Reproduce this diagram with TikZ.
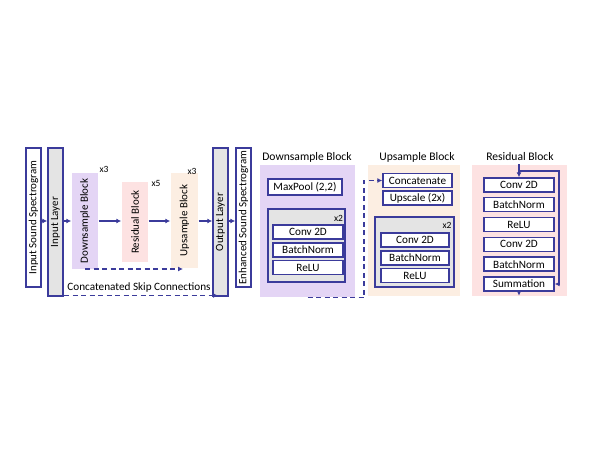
\documentclass[tikz,border=0pt]{standalone}
\usepackage{fontspec}
\setmainfont{Carlito}
\usetikzlibrary{arrows.meta,positioning}

\definecolor{lineblue}{HTML}{3B3B9B}
\definecolor{dspurple}{HTML}{E4D5F5}
\definecolor{respink}{HTML}{FDE2E2}
\definecolor{uspeach}{HTML}{FCEEE2}
\definecolor{laygray}{HTML}{E4E4E4}

\begin{document}
\begin{tikzpicture}[x=1pt,y=-1pt,>={Latex[length=5pt,width=5pt]},line width=1.4pt,
    box/.style={draw=lineblue,fill=white,inner sep=0pt,font=\fontsize{11.2}{12}\selectfont},
    vbox/.style={box,rotate=90,font=\fontsize{11}{12}\selectfont},
    bg/.style={inner sep=0pt,draw=none},
    conn/.style={draw=lineblue,->},
    skip/.style={conn,dash pattern=on 5pt off 3.5pt},
    title/.style={inner sep=0pt,font=\fontsize{11.6}{13}\selectfont},
    rep/.style={inner sep=0pt,font=\fontsize{9.5}{10}\selectfont}]
    \useasboundingbox (0,0) rectangle (608,470);

    % overall network
    \node[vbox,minimum width=139pt,minimum height=15pt] (insp) at (33.5,217.5) {Input Sound Spectrogram};
    \node[vbox,fill=laygray,minimum width=148pt,minimum height=15pt] (inlayer) at (55.5,222) {Input Layer};
    \node[vbox,draw=none,fill=dspurple,minimum width=96pt,minimum height=26pt] (down) at (85,221) {Downsample Block};
    \node[vbox,draw=none,fill=respink,minimum width=80pt,minimum height=26pt] (res) at (135,222) {Residual Block};
    \node[vbox,draw=none,fill=uspeach,minimum width=95pt,minimum height=27pt] (up) at (184.5,220.5) {Upsample Block};
    \node[vbox,fill=laygray,minimum width=148pt,minimum height=15pt] (outlayer) at (220.5,222) {Output Layer};
    \node[vbox,minimum width=139pt,minimum height=15pt] (ensp) at (243.5,217.5) {Enhanced Sound Spectrogram};

    \node[rep] (downrep) at (104,169) {x3};
    \node[rep] (resrep) at (156,183) {x5};
    \node[rep] (uprep) at (192,171) {x3};

    \coordinate (row) at (0,221);
    \coordinate (skiprow) at (0,269);
    \coordinate (lowrow) at (0,295.5);
    \draw[conn] (insp.south |- row) -- (inlayer.north |- row);
    \draw[conn] (inlayer.south |- row) -- (down.north |- row);
    \draw[conn] (down.south |- row) -- (res.north |- row);
    \draw[conn] (res.south |- row) -- (up.north |- row);
    \draw[conn] (up.south |- row) -- (outlayer.north |- row);
    \draw[conn] (outlayer.south |- row) -- (ensp.north |- row);

    \draw[skip] (down.center |- skiprow) -- ([xshift=-1.5pt]up.center |- skiprow);
    \draw[skip] (inlayer.center |- lowrow) -- ([xshift=-2.5pt]outlayer.center |- lowrow);
    \node[box,draw=none,fill=none] (skiplabel) at (139,288) {Concatenated Skip Connections};

    % downsample block
    \node[title] (dstitle) at (307,157) {Downsample Block};
    \node[bg,fill=dspurple,minimum width=95pt,minimum height=132pt] (dsbg) at (307.5,231) {};
    \node[box,minimum width=74pt,minimum height=16pt] (dspool) at (305,187) {MaxPool (2,2)};
    \node[box,fill=laygray,minimum width=77pt,minimum height=73pt] (dsgroup) at (306.5,245.5) {};
    \node[rep] (dsrep) at (338.5,218) {x2};
    \node[box,minimum width=70pt,minimum height=14pt] (dsconv) at (308,232) {Conv 2D};
    \node[box,minimum width=70pt,minimum height=14pt,below=2.5pt of dsconv] (dsbn) {BatchNorm};
    \node[box,minimum width=70pt,minimum height=14pt,below=2.5pt of dsbn] (dsrelu) {ReLU};

    % upsample block
    \node[title] (ustitle) at (417,157) {Upsample Block};
    \node[bg,fill=uspeach,minimum width=92pt,minimum height=131pt] (usbg) at (414,230.5) {};
    \node[box,minimum width=69pt,minimum height=14pt] (usconcat) at (417.5,180.5) {Concatenate};
    \node[box,minimum width=69pt,minimum height=14pt,below=2pt of usconcat] (usscale) {Upscale (2x)};
    \node[box,fill=laygray,minimum width=79pt,minimum height=70pt] (usgroup) at (414.5,252) {};
    \node[rep] (usrep) at (447,225) {x2};
    \node[box,minimum width=68pt,minimum height=14pt] (usconv) at (415,240) {Conv 2D};
    \node[box,minimum width=68pt,minimum height=14pt,below=2.5pt of usconv] (usbn) {BatchNorm};
    \node[box,minimum width=68pt,minimum height=14pt,below=2.5pt of usbn] (usrelu) {ReLU};

    \coordinate (skipcol) at (364,0);
    \draw[skip] (dsbg.south) -- (dsbg.south -| skipcol) -- (skipcol |- usconcat.west) -- (usconcat.west);

    % residual block
    \node[title] (restitle) at (520,157) {Residual Block};
    \node[bg,fill=respink,minimum width=95pt,minimum height=131pt] (resbg) at (519.5,230.5) {};
    \node[box,minimum width=70pt,minimum height=14pt] (resconva) at (519,185) {Conv 2D};
    \node[box,minimum width=70pt,minimum height=14pt,below=4.4pt of resconva] (resbna) {BatchNorm};
    \node[box,minimum width=70pt,minimum height=14pt,below=4.4pt of resbna] (resrelu) {ReLU};
    \node[box,minimum width=70pt,minimum height=14pt,below=4.4pt of resrelu] (resconvb) {Conv 2D};
    \node[box,minimum width=70pt,minimum height=14pt,below=4.4pt of resconvb] (resbnb) {BatchNorm};
    \node[box,minimum width=70pt,minimum height=14pt,below=4.4pt of resbnb] (ressum) {Summation};

    \coordinate (rescol) at (559,171);
    \draw[conn] (resconva.north |- resbg.north) -- (resconva.north);
    \draw[conn] (resconva.north |- rescol) -| (ressum.east -| rescol) -- (ressum.east);
    \draw[conn] (ressum.south) -- ([yshift=1pt]ressum.south |- resbg.south);
\end{tikzpicture}
\end{document}
